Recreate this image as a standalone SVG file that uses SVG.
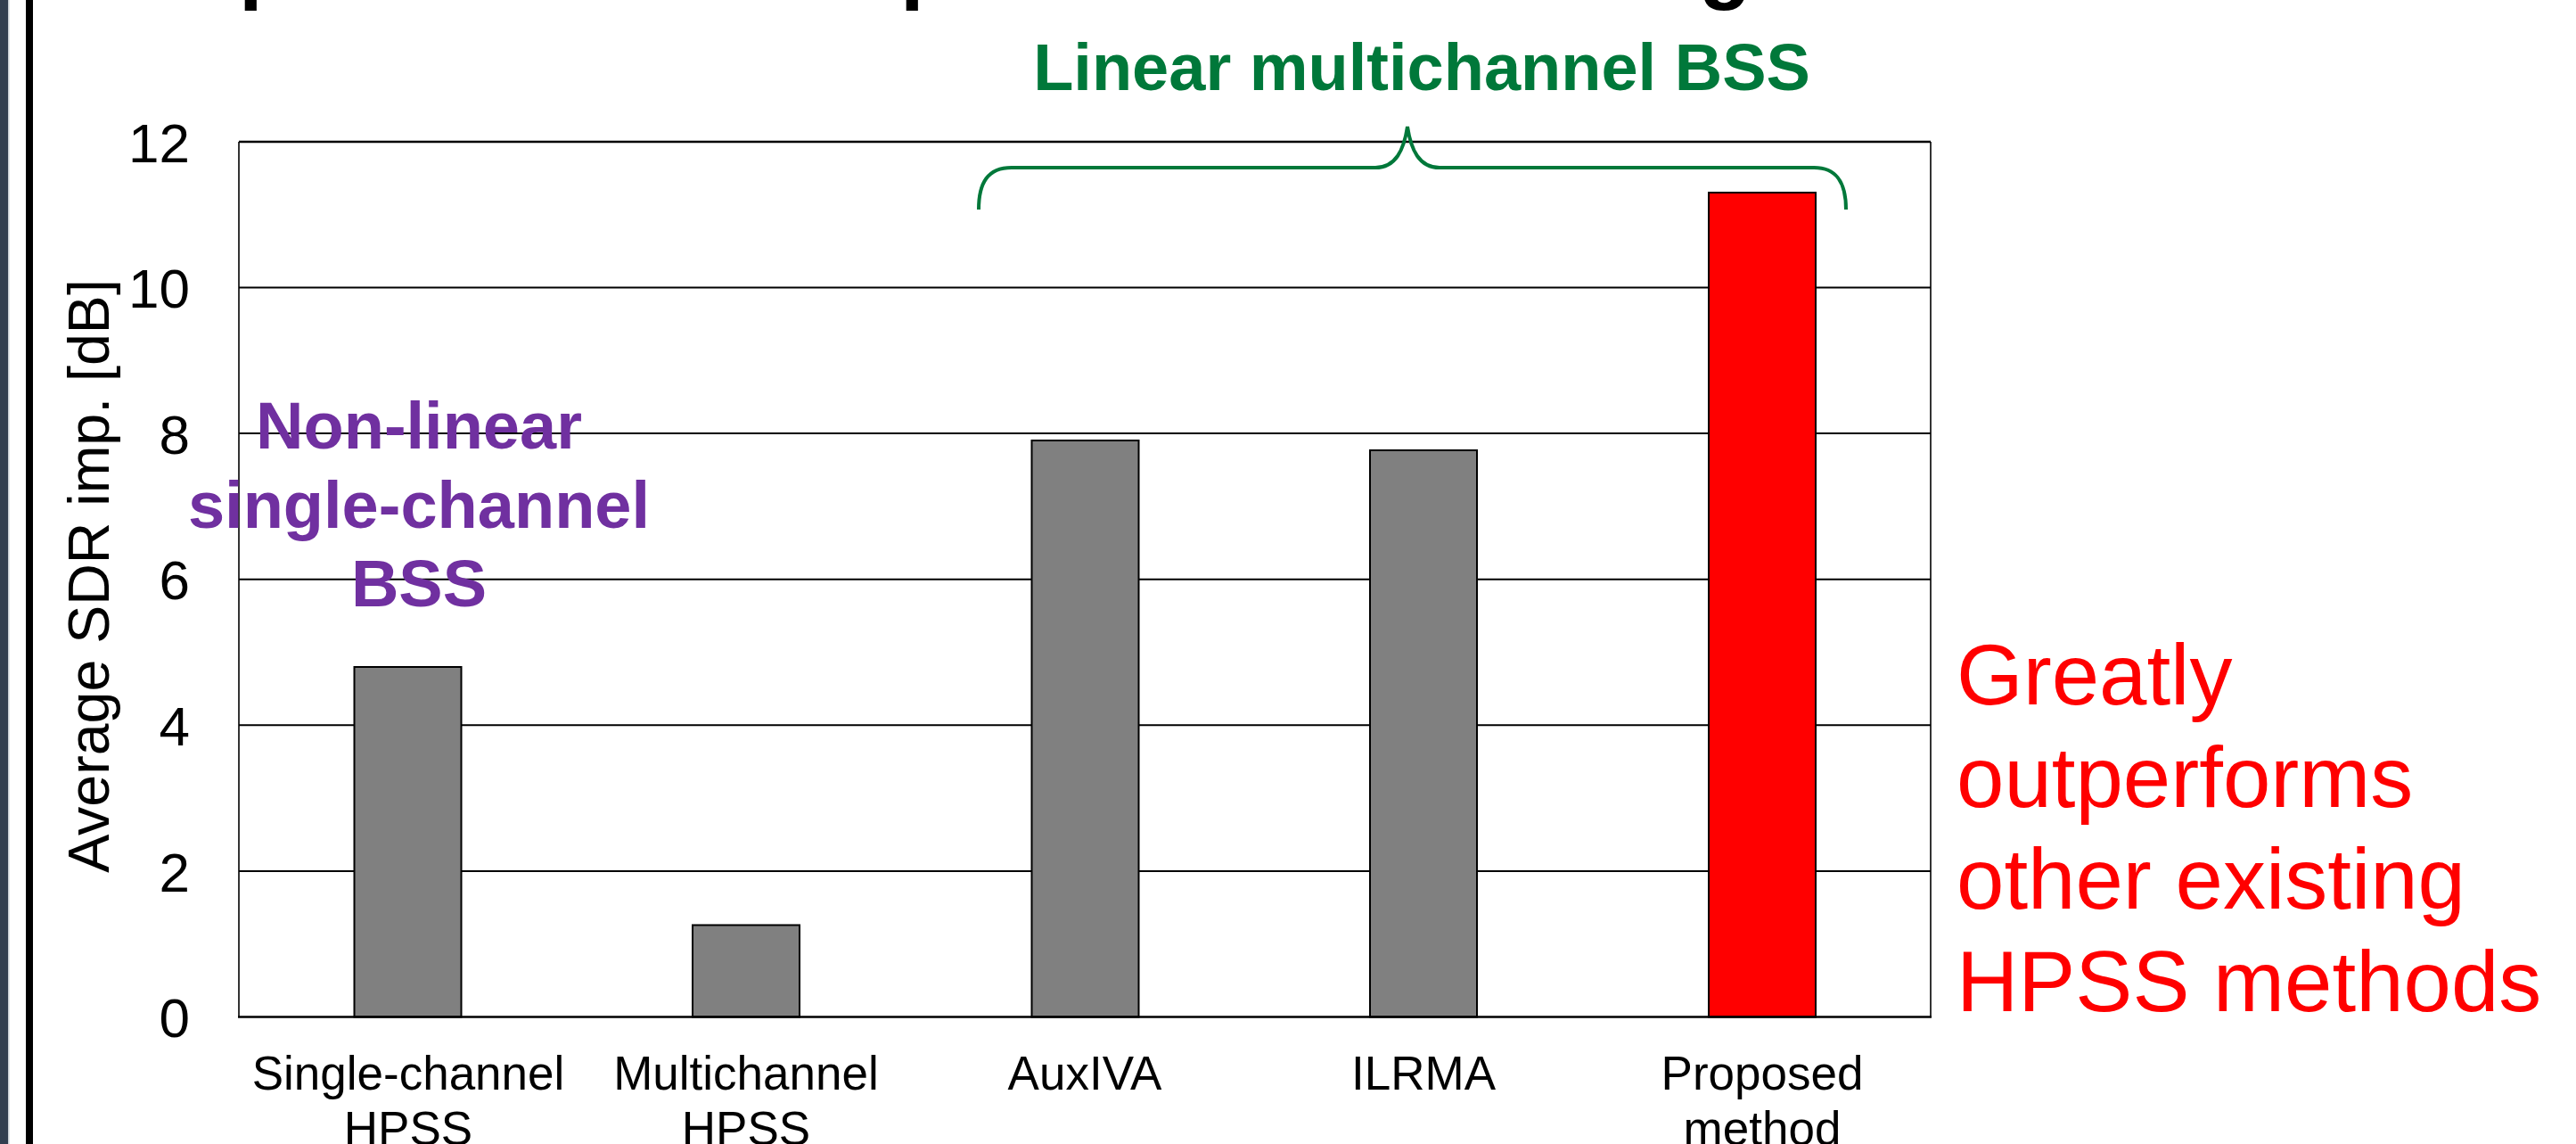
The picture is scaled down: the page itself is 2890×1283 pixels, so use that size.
<svg xmlns="http://www.w3.org/2000/svg" width="2890" height="1283" viewBox="0 0 2890 1283">
  <style>
    .sans { font-family: "Liberation Sans", Arial, sans-serif; }
    .tick { font-size: 62px; fill: #000; text-anchor: end; }
    .cat { font-size: 53px; fill: #000; text-anchor: middle; }
    .grid { stroke: #000; stroke-width: 2; fill: none; }
    .frame { stroke: #000; stroke-width: 1.6; fill: none; }
    .bar { stroke: #000; stroke-width: 2; }
    .gray { fill: #808080; }
    .red { fill: #ff0000; }
    .group-purple { font-size: 74px; font-weight: bold; fill: #7030a0; text-anchor: middle; }
    .group-green { font-size: 74px; font-weight: bold; fill: #00783a; text-anchor: middle; }
    .note { font-size: 96px; fill: #ff0000; }
  </style>

  <rect width="2890" height="1283" fill="#ffffff"/>

  <!-- slide edge decoration -->
  <g id="slide-edge">
    <rect x="0" y="0" width="9" height="1283" fill="#323e50"/>
    <rect x="9" y="0" width="1.5" height="1283" fill="#c9ced6"/>
    <rect x="29" y="0" width="8" height="1283" fill="#000000"/>
  </g>

  <!-- lower edge of the slide heading (mostly above the visible area) -->
  <g id="heading" class="sans" font-size="96" font-weight="bold" fill="#000">
    <text x="268" y="-8">p</text>
    <text x="1010" y="-8">p</text>
    <text x="1906" y="-8">g</text>
  </g>

  <!-- plot area: y(v) = 1140.5 - 81.8 * v -->
  <g id="plot-frame">
    <line class="grid" x1="268" y1="977" x2="2166" y2="977"/>
    <line class="grid" x1="268" y1="813.3" x2="2166" y2="813.3"/>
    <line class="grid" x1="268" y1="649.7" x2="2166" y2="649.7"/>
    <line class="grid" x1="268" y1="486.1" x2="2166" y2="486.1"/>
    <line class="grid" x1="268" y1="322.5" x2="2166" y2="322.5"/>
    <line x1="268" y1="159" x2="2166" y2="159" stroke="#000" stroke-width="2.5"/>
    <line class="frame" x1="268" y1="159" x2="268" y2="1140.5"/>
    <line class="frame" x1="2166" y1="159" x2="2166" y2="1140.5"/>
  </g>

  <g id="y-axis" class="sans">
    <text class="tick" x="213" y="181.5">12</text>
    <text class="tick" x="213" y="345">10</text>
    <text class="tick" x="213" y="508.6">8</text>
    <text class="tick" x="213" y="672.2">6</text>
    <text class="tick" x="213" y="835.8">4</text>
    <text class="tick" x="213" y="999.5">2</text>
    <text class="tick" x="213" y="1163">0</text>
    <text transform="translate(122,646) rotate(-90)" font-size="64.5" text-anchor="middle" fill="#000">Average SDR imp. [dB]</text>
  </g>

  <g id="bars">
    <rect id="bar-single-hpss" class="bar gray" x="397.5" y="748" width="120" height="392.5"/>
    <rect id="bar-multi-hpss" class="bar gray" x="777" y="1037.5" width="120" height="103"/>
    <rect id="bar-auxiva" class="bar gray" x="1157.5" y="494" width="120" height="646.5"/>
    <rect id="bar-ilrma" class="bar gray" x="1537" y="505" width="120" height="635.5"/>
    <rect id="bar-proposed" class="bar red" x="1917" y="216" width="120" height="924.5"/>
  </g>

  <line id="x-axis" x1="267" y1="1140.5" x2="2167" y2="1140.5" stroke="#000" stroke-width="2.5"/>

  <g id="x-labels" class="sans">
    <text class="cat" x="458" y="1222">Single-channel<tspan x="458" y="1284">HPSS</tspan></text>
    <text class="cat" x="837" y="1222">Multichannel<tspan x="837" y="1284">HPSS</tspan></text>
    <text class="cat" x="1217" y="1222">AuxIVA</text>
    <text class="cat" x="1597" y="1222">ILRMA</text>
    <text class="cat" x="1977" y="1222">Proposed<tspan x="1977" y="1284">method</tspan></text>
  </g>

  <g id="label-nonlinear" class="sans group-purple">
    <text x="470" y="503">Non-linear</text>
    <text x="470" y="592">single-channel</text>
    <text x="470" y="680">BSS</text>
  </g>

  <g id="label-linear" class="sans">
    <text class="group-green" x="1595" y="101">Linear multichannel BSS</text>
  </g>

  <g id="connectors">
    <path id="brace-linear" d="M1098,235 C1098,205 1108,188 1135,188 L1543,188 C1566,188 1575,168 1579,142 C1583,168 1592,188 1615,188 L2035,188 C2061,188 2071,205 2071,235" fill="none" stroke="#00783a" stroke-width="4"/>
  </g>

  <g id="note-result" class="sans note">
    <text x="2195" y="790">Greatly</text>
    <text x="2195" y="904.5">outperforms</text>
    <text x="2195" y="1019">other existing</text>
    <text x="2195" y="1133.5">HPSS methods</text>
  </g>
</svg>
